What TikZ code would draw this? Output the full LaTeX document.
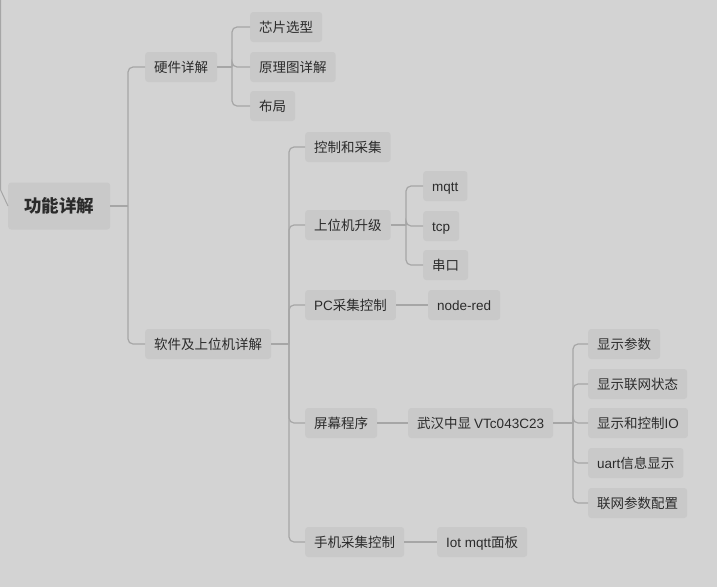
\documentclass[tikz,border=0pt]{standalone}
\usepackage{fontspec}
\setmainfont{Noto Sans CJK SC}
\newfontfamily\latin{Liberation Sans}
\definecolor{bggray}{HTML}{D3D3D3}
\definecolor{boxgray}{HTML}{C9C9C9}
\definecolor{linegray}{HTML}{A6A6A6}
\definecolor{txtgray}{HTML}{2B2B2B}
\begin{document}
\begin{tikzpicture}[x=1pt,y=-1pt,
	box/.style={fill=boxgray,rounded corners=3pt,inner xsep=9pt,inner ysep=0pt,minimum height=30pt,text height=11.5pt,text depth=1.5pt,text=txtgray,anchor=west,font=\fontsize{13.5}{15}\selectfont},
	rootbox/.style={box,inner xsep=16pt,minimum height=47pt,text height=14pt,text depth=2pt,font=\fontsize{17.5}{19}\selectfont\bfseries},
	link/.style={draw=linegray,line width=1.2pt,rounded corners=5pt}]
	\fill[bggray] (0,0) rectangle (717,587);
	\useasboundingbox (0,0) rectangle (717,587);
	% nodes
	\node[rootbox] (root) at (8,206) {功能详解};
	\node[box] (hw) at (145,67) {硬件详解};
	\node[box] (sw) at (145,344) {软件及上位机详解};
	\node[box] (chip) at (250,27) {芯片选型};
	\node[box] (sch) at (250,67) {原理图详解};
	\node[box] (lay) at (250,106) {布局};
	\node[box] (ctrl) at (305,147) {控制和采集};
	\node[box] (upg) at (305,225) {上位机升级};
	\node[box] (pc) at (305,305) {{\latin PC}采集控制};
	\node[box] (scr) at (305,423) {屏幕程序};
	\node[box] (phone) at (305,542) {手机采集控制};
	\node[box] (mqtt) at (423,186) {\latin mqtt};
	\node[box] (tcp) at (423,226) {\latin tcp};
	\node[box] (uart) at (423,265) {串口};
	\node[box] (nred) at (428,305) {\latin node-red};
	\node[box] (vt) at (408,423) {武汉中显 {\latin VTc043C23}};
	\node[box] (iot) at (437,542) {{\latin Iot mqtt}面板};
	\node[box] (par) at (588,344) {显示参数};
	\node[box] (net) at (588,384) {显示联网状态};
	\node[box] (io) at (588,423) {显示和控制{\latin IO}};
	\node[box] (info) at (588,463) {{\latin uart}信息显示};
	\node[box] (cfg) at (588,503) {联网参数配置};
	% junctions
	\coordinate (top) at (0.6,0);
	\coordinate (bend) at (0.6,190);
	\coordinate (rootj) at (128,206);
	\coordinate (hwj) at (232,67);
	\coordinate (swj) at (289,344);
	\coordinate (upgj) at (406,225);
	\coordinate (vtj) at (573,423);
	% connectors
	\draw[link,line width=1pt,rounded corners=0pt] (top) -- (bend) -- (root.west);
	\draw[link] (root.east) -- (rootj);
	\foreach \c in {hw,sw} \draw[link] (rootj) |- (\c.west);
	\draw[link] (hw.east) -- (hwj);
	\foreach \c in {chip,sch,lay} \draw[link] (hwj) |- (\c.west);
	\draw[link] (sw.east) -- (swj);
	\foreach \c in {ctrl,upg,pc,scr,phone} \draw[link] (swj) |- (\c.west);
	\draw[link] (upg.east) -- (upgj);
	\foreach \c in {mqtt,tcp,uart} \draw[link] (upgj) |- (\c.west);
	\draw[link] (pc.east) -- (nred.west);
	\draw[link] (scr.east) -- (vt.west);
	\draw[link] (vt.east) -- (vtj);
	\foreach \c in {par,net,io,info,cfg} \draw[link] (vtj) |- (\c.west);
	\draw[link] (phone.east) -- (iot.west);
\end{tikzpicture}
\end{document}
